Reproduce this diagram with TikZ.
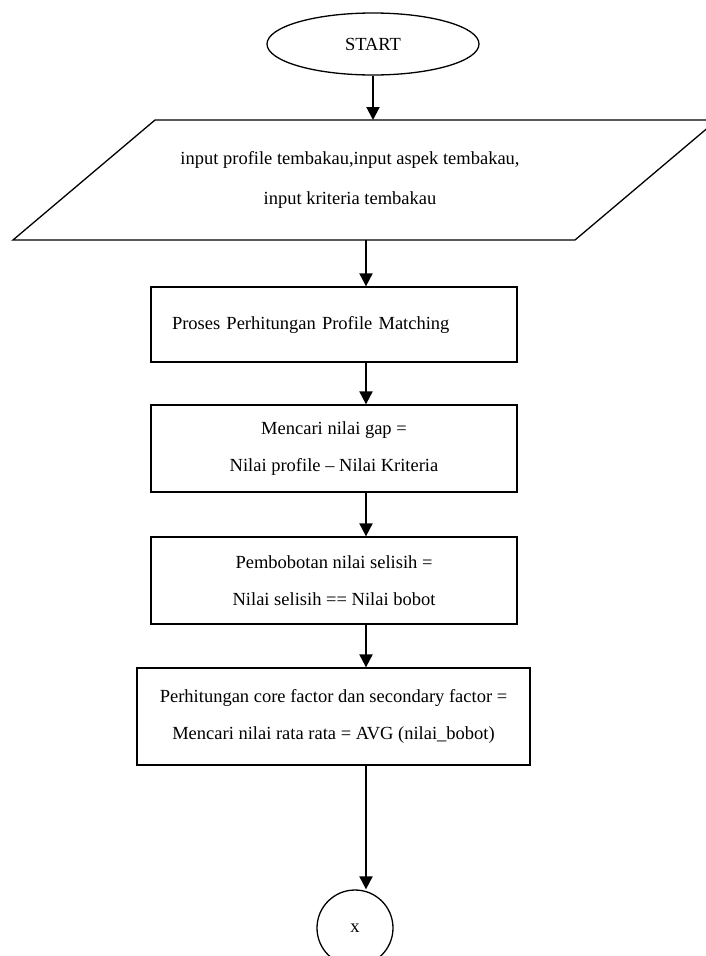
\documentclass[tikz,border=0pt]{standalone}
\usepackage{fontspec}
\setmainfont{Liberation Serif}
\usetikzlibrary{arrows.meta,shapes.geometric}

\begin{document}
\begin{tikzpicture}[x=1pt,y=-1pt,>={Triangle[length=13pt,width=13pt]},
  flow/.style={line width=2pt,->},
  box/.style={draw,line width=1.3pt,minimum width=366pt,minimum height=75pt,
    align=center,font=\fontsize{18.5}{37}\selectfont},
  term/.style={draw,line width=1.3pt,ellipse,minimum width=212pt,minimum height=62pt,
    font=\fontsize{18.5}{22}\selectfont}]
  \clip (0,0) rectangle (706,956);
  \coordinate (col) at (366,0);
  \node [term] (start) at (373,44) {START};
  % input
  \coordinate (pTL) at (155,120);
  \coordinate (pTR) at (717,120);
  \coordinate (pBR) at (575,240);
  \coordinate (pBL) at (13,240);
  \draw [line width=1.3pt] (pTL) -- (pTR) -- (pBR) -- (pBL) -- cycle;
  \node [align=center,font=\fontsize{18.5}{40}\selectfont] (inp) at (350,180)
    {input profile tembakau,input aspek tembakau,\\input kriteria tembakau};
  \node [box,align=left,text width=324pt,inner xsep=21pt] (b2) at (334,324.5)
    {Proses Perhitungan Profile Matching};
  \node [box,minimum height=87pt] (b3) at (334,448.5)
    {Mencari nilai gap =\\Nilai profile -- Nilai Kriteria};
  \node [box,minimum height=87pt] (b4) at (334,580.5)
    {Pembobotan nilai selisih =\\Nilai selisih == Nilai bobot};
  \node [box,minimum width=393pt,minimum height=97pt] (b5) at (333.5,716.5)
    {Perhitungan core factor dan secondary factor =\\Mencari nilai rata rata = AVG (nilai\_bobot)};
  \node [draw,line width=1.3pt,circle,minimum size=76pt,font=\fontsize{18.5}{22}\selectfont] (x) at (355,928) {x};
  \draw [flow] (start) -- (start |- pTL);
  \draw [flow] (pBL -| col) -- (b2.north -| col);
  \draw [flow] (b2.south -| col) -- (b3.north -| col);
  \draw [flow] (b3.south -| col) -- (b4.north -| col);
  \draw [flow] (b4.south -| col) -- (b5.north -| col);
  \draw [flow] (b5.south -| col) -- (col |- x.north);
\end{tikzpicture}
\end{document}
